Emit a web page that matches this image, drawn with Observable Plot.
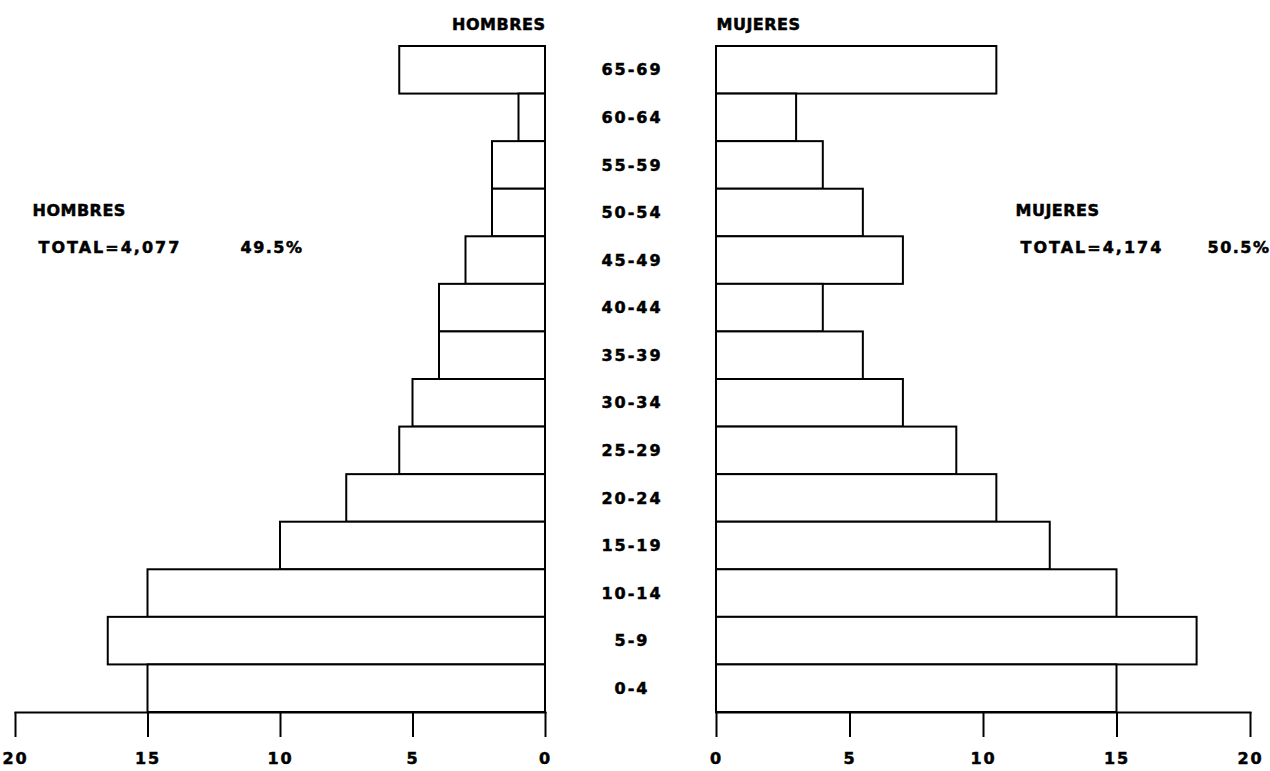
<!DOCTYPE html>
<html>
<head>
<meta charset="utf-8">
<script src="https://cdn.jsdelivr.net/npm/d3@7"></script>
<script src="https://cdn.jsdelivr.net/npm/@observablehq/plot@0.6"></script>
<style>
  html, body { margin: 0; padding: 0; background: #fff; }
  #chart { position: relative; width: 1270px; height: 771px; overflow: hidden; background: #fff; }
  #chart svg { position: absolute; top: 0; background: transparent; }
</style>
</head>
<body>
<div id="chart"></div>
<script>
// Age groups, top to bottom
const ages = ["65-69","60-64","55-59","50-54","45-49","40-44","35-39","30-34","25-29","20-24","15-19","10-14","5-9","0-4"];
// Percent values
const hombres = [5.5, 1, 2, 2, 3, 4, 4, 5, 5.5, 7.5, 10, 15, 16.5, 15];
const mujeres = [10.5, 3, 4, 5.5, 7, 4, 5.5, 7, 9, 10.5, 12.5, 15, 18, 15];
const xTicks = [0, 5, 10, 15, 20];
const headerLeft = "HOMBRES";
const headerRight = "MUJERES";
const totalLeft = ["HOMBRES", "TOTAL=4,077", "49.5%"];
const totalRight = ["MUJERES", "TOTAL=4,174", "50.5%"];

const dataH = ages.map((a, i) => ({age: a, value: hombres[i]}));
const dataM = ages.map((a, i) => ({age: a, value: mujeres[i]}));

const FONT = "DejaVu Sans, Liberation Sans, Arial, sans-serif";
const H = 771, MT = 46, MB = 59;
const txt = {fontFamily: FONT, fontWeight: "bold", fontSize: 16, fill: "black"};

function styleText(svg) {
  svg.querySelectorAll("text").forEach(t => {
    const s = t.textContent;
    let ls = "0.5px";
    if (s.startsWith("TOTAL")) ls = "2px";
    else if (s.includes("%")) ls = "1.5px";
    else if (/^\d+-\d+$/.test(s)) ls = "2px";
    else if (/^\d+$/.test(s)) ls = "2px";
    t.style.letterSpacing = ls;
    t.style.stroke = "black";
    t.style.strokeWidth = "0.5px";
  });
}

function panel({data, reverse, left, width, ml, mr, header, headerAnchor, notes, noteDx}) {
  const p = Plot.plot({
    width, height: H,
    marginLeft: ml, marginRight: mr, marginTop: MT, marginBottom: MB,
    style: {fontFamily: FONT, background: "transparent", overflow: "visible"},
    x: {domain: [0, 20], reverse, axis: null},
    y: {domain: ages, padding: 0, round: false, axis: null},
    marks: [
      Plot.barX(data, {x: "value", y: "age", fill: "white", stroke: "black", strokeWidth: 2, inset: 0}),
      Plot.frame({anchor: "bottom", stroke: "black", strokeWidth: 2}),
      Plot.axisX({ticks: xTicks, tickSize: 25, tickPadding: 15, strokeWidth: 2, stroke: "black",
                  fontSize: 16, fontWeight: "bold", label: null, tickFormat: d => d}),
      Plot.text([header], {text: d => d, frameAnchor: headerAnchor === "end" ? "top-right" : "top-left",
                  textAnchor: headerAnchor, dy: -28, ...txt}),
      Plot.text([notes[0]], {text: d => d, frameAnchor: "top-left", textAnchor: "start", dx: noteDx[0], dy: 158, ...txt}),
      Plot.text([notes[1]], {text: d => d, frameAnchor: "top-left", textAnchor: "start", dx: noteDx[1], dy: 195, ...txt}),
      Plot.text([notes[2]], {text: d => d, frameAnchor: "top-left", textAnchor: "start", dx: noteDx[2], dy: 195, ...txt})
    ]
  });
  styleText(p);
  p.style.left = left + "px";
  return p;
}

const chart = document.getElementById("chart");

chart.appendChild(panel({
  data: dataH, reverse: true, left: 0, width: 560, ml: 15, mr: 15,
  header: headerLeft, headerAnchor: "end", notes: totalLeft, noteDx: [17, 23, 225]
}));

chart.appendChild(panel({
  data: dataM, reverse: false, left: 700, width: 570, ml: 16, mr: 20,
  header: headerRight, headerAnchor: "start", notes: totalRight, noteDx: [299, 304, 491]
}));

// Middle age labels
const mid = Plot.plot({
  width: 171, height: H,
  marginLeft: 0, marginRight: 0, marginTop: MT, marginBottom: MB,
  style: {fontFamily: FONT, background: "transparent", overflow: "visible"},
  x: {axis: null},
  y: {type: "band", domain: ages, padding: 0, round: false, axis: null},
  marks: [
    Plot.text(ages, {y: d => d, text: d => d, frameAnchor: "middle", dx: 1, ...txt})
  ]
});
styleText(mid);
mid.style.left = "545px";
chart.appendChild(mid);
</script>
</body>
</html>
